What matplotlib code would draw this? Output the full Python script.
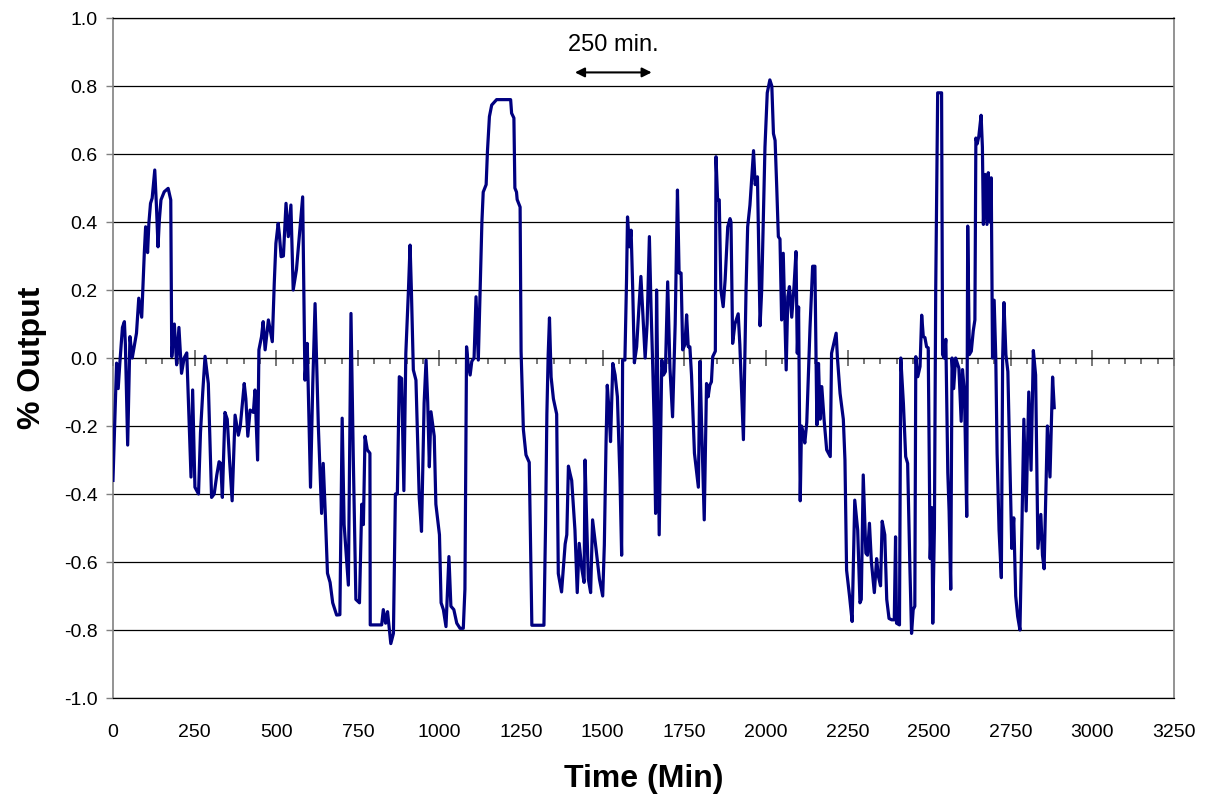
import matplotlib
matplotlib.use("Agg")
import matplotlib.pyplot as plt
from matplotlib.ticker import MultipleLocator, FixedLocator, NullFormatter

plt.rcParams['font.family'] = ['Liberation Sans', 'DejaVu Sans']

# ---- data ----
time_min = [
    0, 11, 16, 21, 29, 35, 38, 45, 52, 59, 72, 79, 88, 96, 100, 106, 110, 115, 120, 128,
    133, 138, 142, 147, 157, 169, 177, 180, 188, 195, 202, 210, 218, 226, 232, 239, 244, 251,
    262, 268, 275, 282, 292, 302, 310, 318, 325, 330, 335, 343, 350, 357, 365, 374, 384, 390,
    402, 407, 413, 420, 430, 435, 443, 447, 455, 460, 466, 476, 482, 488, 494, 499, 506, 510,
    515, 522, 530, 537, 545, 552, 562, 581, 588, 595, 605, 612, 619, 629, 639, 644, 650, 657,
    665, 673, 685, 695, 702, 708, 721, 729, 736, 744, 755, 762, 767, 772, 779, 787, 788, 823,
    828, 835, 841, 851, 859, 865, 871, 877, 884, 891, 897, 905, 910, 914, 920, 928, 938, 945,
    953, 959, 964, 969, 974, 984, 989, 1000, 1005, 1012, 1020, 1029, 1035, 1044, 1053, 1063,
    1073, 1078, 1083, 1088, 1094, 1099, 1106, 1112, 1119, 1124, 1130, 1134, 1143, 1147, 1153,
    1160, 1175, 1218, 1221, 1228, 1231, 1236, 1238, 1247, 1250, 1257, 1265, 1275, 1283, 1320,
    1325, 1329, 1333, 1337, 1342, 1349, 1359, 1364, 1374, 1385, 1390, 1395, 1400, 1405, 1415,
    1422, 1428, 1436, 1443, 1446, 1450, 1456, 1463, 1469, 1480, 1490, 1500, 1505, 1510, 1514,
    1519, 1524, 1531, 1538, 1545, 1553, 1558, 1561, 1568, 1573, 1576, 1582, 1587, 1592, 1597,
    1604, 1611, 1617, 1622, 1630, 1636, 1643, 1648, 1653, 1658, 1662, 1665, 1669, 1673, 1681,
    1686, 1692, 1699, 1706, 1714, 1722, 1729, 1734, 1740, 1745, 1752, 1757, 1762, 1767, 1772,
    1781, 1793, 1798, 1803, 1811, 1818, 1823, 1828, 1833, 1837, 1845, 1847, 1852, 1857, 1862,
    1869, 1875, 1883, 1890, 1893, 1898, 1905, 1915, 1920, 1931, 1939, 1944, 1951, 1962, 1967,
    1974, 1982, 1987, 1997, 2004, 2012, 2018, 2023, 2028, 2033, 2038, 2043, 2048, 2053, 2058,
    2062, 2067, 2072, 2079, 2086, 2092, 2096, 2100, 2105, 2109, 2114, 2119, 2125, 2135, 2143,
    2150, 2156, 2161, 2166, 2171, 2178, 2186, 2197, 2201, 2215, 2219, 2227, 2237, 2242, 2247,
    2256, 2264, 2272, 2281, 2288, 2292, 2298, 2306, 2311, 2317, 2323, 2332, 2339, 2344, 2351,
    2356, 2364, 2370, 2377, 2385, 2393, 2397, 2400, 2409, 2413, 2421, 2428, 2434, 2436, 2441,
    2446, 2451, 2456, 2459, 2465, 2472, 2477, 2482, 2487, 2492, 2497, 2503, 2508, 2511, 2516,
    2520, 2526, 2538, 2541, 2546, 2551, 2557, 2561, 2566, 2570, 2575, 2581, 2591, 2598, 2602,
    2608, 2615, 2618, 2623, 2629, 2635, 2640, 2643, 2647, 2652, 2659, 2663, 2666, 2671, 2677,
    2681, 2686, 2690, 2694, 2699, 2704, 2708, 2714, 2721, 2725, 2729, 2735, 2741, 2748, 2753,
    2759, 2765, 2771, 2778, 2783, 2790, 2797, 2805, 2812, 2819, 2826, 2833, 2842, 2847, 2852,
    2862, 2870, 2878, 2883,
]
pct_output = [
    -0.36, -0.015, -0.09, -0.015, 0.09, 0.107, 0.04, -0.256, 0.063, 0.0, 0.073, 0.176, 0.12,
    0.31, 0.386, 0.31, 0.397, 0.455, 0.47, 0.553, 0.45, 0.327, 0.406, 0.465, 0.489, 0.499,
    0.465, 0.004, 0.10, -0.02, 0.09, -0.045, 0.0, 0.015, -0.15, -0.35, -0.094, -0.38, -0.40,
    -0.22, -0.10, 0.005, -0.075, -0.41, -0.40, -0.344, -0.305, -0.31, -0.41, -0.16, -0.18,
    -0.30, -0.42, -0.168, -0.227, -0.20, -0.075, -0.12, -0.23, -0.153, -0.16, -0.094, -0.30,
    0.024, 0.063, 0.107, 0.024, 0.112, 0.08, 0.048, 0.22, 0.337, 0.396, 0.36, 0.298, 0.30,
    0.455, 0.357, 0.45, 0.20, 0.26, 0.474, -0.065, 0.043, -0.38, -0.075, 0.16, -0.20, -0.457,
    -0.31, -0.45, -0.633, -0.66, -0.72, -0.756, -0.755, -0.177, -0.49, -0.668, 0.131, -0.29,
    -0.71, -0.72, -0.43, -0.49, -0.23, -0.27, -0.28, -0.785, -0.785, -0.74, -0.78, -0.746,
    -0.84, -0.81, -0.40, -0.40, -0.055, -0.06, -0.39, 0.014, 0.20, 0.332, 0.20, -0.035, -0.065,
    -0.41, -0.51, -0.133, -0.006, -0.13, -0.32, -0.158, -0.23, -0.43, -0.52, -0.72, -0.74,
    -0.79, -0.584, -0.73, -0.74, -0.78, -0.795, -0.795, -0.68, 0.033, -0.02, -0.05, -0.01,
    0.0, 0.18, -0.006, 0.18, 0.40, 0.488, 0.51, 0.608, 0.71, 0.744, 0.76, 0.76, 0.72, 0.706,
    0.50, 0.488, 0.466, 0.444, 0.02, -0.21, -0.285, -0.307, -0.786, -0.786, -0.49, -0.165,
    0.01, 0.118, -0.056, -0.12, -0.165, -0.634, -0.688, -0.547, -0.52, -0.318, -0.34, -0.36,
    -0.506, -0.69, -0.545, -0.62, -0.66, -0.30, -0.45, -0.65, -0.69, -0.476, -0.565, -0.65,
    -0.70, -0.55, -0.26, -0.08, -0.15, -0.246, -0.016, -0.05, -0.114, -0.36, -0.58, -0.006,
    -0.006, 0.23, 0.415, 0.327, 0.376, 0.20, -0.014, 0.033, 0.15, 0.24, 0.15, 0.0, 0.10,
    0.357, 0.15, -0.016, -0.20, -0.457, 0.20, -0.10, -0.52, -0.006, -0.05, -0.04, 0.224,
    -0.03, -0.173, 0.10, 0.494, 0.25, 0.25, 0.024, 0.04, 0.127, 0.033, 0.033, -0.05, -0.28,
    -0.38, -0.01, -0.20, -0.476, -0.075, -0.114, -0.08, -0.07, 0.004, 0.02, 0.592, 0.465,
    0.465, 0.20, 0.151, 0.23, 0.386, 0.41, 0.40, 0.043, 0.10, 0.13, 0.04, -0.24, 0.20, 0.386,
    0.45, 0.61, 0.51, 0.533, 0.095, 0.20, 0.62, 0.78, 0.818, 0.80, 0.66, 0.64, 0.504, 0.357,
    0.35, 0.112, 0.308, 0.12, -0.035, 0.18, 0.21, 0.12, 0.21, 0.313, 0.014, 0.15, -0.42,
    -0.20, -0.22, -0.25, -0.19, 0.09, 0.27, 0.27, -0.197, -0.016, -0.18, -0.084, -0.18, -0.27,
    -0.29, 0.014, 0.073, 0.0, -0.104, -0.18, -0.30, -0.624, -0.70, -0.775, -0.418, -0.506,
    -0.72, -0.71, -0.344, -0.574, -0.58, -0.486, -0.60, -0.69, -0.59, -0.64, -0.67, -0.48,
    -0.52, -0.71, -0.766, -0.77, -0.77, -0.526, -0.78, -0.785, 0.0, -0.133, -0.29, -0.31,
    -0.40, -0.62, -0.81, -0.74, -0.73, 0.004, -0.055, -0.025, 0.126, 0.063, 0.06, 0.033, 0.03,
    -0.59, -0.44, -0.78, -0.50, 0.20, 0.78, 0.78, 0.01, 0.0, 0.055, -0.337, -0.45, -0.68, 0.0,
    -0.09, 0.0, -0.03, -0.186, -0.034, -0.10, -0.466, 0.388, 0.01, 0.02, 0.08, 0.112, 0.647,
    0.63, 0.652, 0.714, 0.62, 0.393, 0.54, 0.393, 0.545, 0.40, 0.53, 0.0, 0.17, 0.0, -0.28,
    -0.506, -0.646, 0.0, 0.163, 0.01, -0.04, -0.337, -0.56, -0.47, -0.70, -0.76, -0.80, -0.55,
    -0.18, -0.45, -0.10, -0.33, 0.022, -0.05, -0.56, -0.46, -0.58, -0.62, -0.20, -0.35,
    -0.056, -0.146,
]

x_ticks = [0, 250, 500, 750, 1000, 1250, 1500, 1750, 2000, 2250, 2500, 2750, 3000, 3250]
y_ticks = [-1.0, -0.8, -0.6, -0.4, -0.2, 0.0, 0.2, 0.4, 0.6, 0.8, 1.0]
span_start, span_end = 1415, 1650
span_label = "250 min."

# ---- figure ----
fig = plt.figure(figsize=(12.07, 7.94), dpi=100)
ax = fig.add_axes([0.0936, 0.1209, 0.8791, 0.8564])
ax.set_xlim(0, 3250)
ax.set_ylim(-1.0, 1.0)

ax.set_yticks(y_ticks)
ax.set_yticklabels([f"{v:.1f}" for v in y_ticks])
ax.set_xticks(x_ticks)
ax.set_xticklabels([str(v) for v in x_ticks])

ax.yaxis.grid(True, color='black', linewidth=0.9)
ax.set_axisbelow(True)

for side in ['left', 'right']:
    ax.spines[side].set_color('#808080')
    ax.spines[side].set_linewidth(1.2)
for side in ['top', 'bottom']:
    ax.spines[side].set_color('black')
    ax.spines[side].set_linewidth(0.9)

ax.tick_params(axis='y', direction='out', length=5, width=1, color='#808080',
               labelsize=14, pad=6)
ax.tick_params(axis='x', length=0, labelsize=14, pad=19)

# zero axis with ticks
sec = ax.secondary_xaxis(0.5)
sec.spines['bottom'].set_color('#808080')
sec.spines['bottom'].set_linewidth(1.5)
sec.xaxis.set_major_locator(FixedLocator(x_ticks))
sec.xaxis.set_minor_locator(MultipleLocator(50))
sec.xaxis.set_major_formatter(NullFormatter())
sec.xaxis.set_minor_formatter(NullFormatter())
sec.tick_params(which='major', direction='inout', length=11, width=1.2,
                color='#606060')
sec.tick_params(which='minor', direction='in', length=4, width=1.2,
                color='#606060')

ax.plot(time_min, pct_output, color='#000080', linewidth=2.3, zorder=3)

ax.set_xlabel('Time (Min)', fontsize=23, fontweight='bold', labelpad=16)
ax.set_ylabel('% Output', fontsize=23, fontweight='bold', labelpad=12)

ax.annotate('', xy=(span_end, 0.84), xytext=(span_start, 0.84),
            arrowprops=dict(arrowstyle='<|-|>', color='black', lw=1.5,
                            mutation_scale=14, shrinkA=0, shrinkB=0))
ax.text((span_start + span_end) / 2, 0.92, span_label, ha='center', va='center',
        fontsize=17)

fig.savefig('out.png', dpi=100, facecolor='white')
